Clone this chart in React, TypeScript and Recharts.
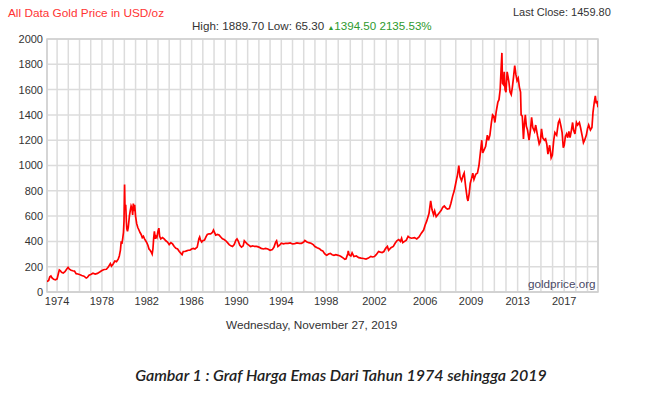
import React from 'react';
import { LineChart, Line, XAxis, YAxis, CartesianGrid, ReferenceArea } from 'recharts';

// gold price readings (decimal year, USD/oz)
const DATES = [
  1973.1, 1973.25, 1973.35, 1973.45, 1973.55, 1973.7, 1973.85, 1974.0, 1974.1, 1974.2,
  1974.3, 1974.4, 1974.55, 1974.7, 1974.85, 1974.98, 1975.1, 1975.25, 1975.4, 1975.55,
  1975.7, 1975.85, 1976.0, 1976.2, 1976.4, 1976.6, 1976.7, 1976.85, 1977.0, 1977.2,
  1977.4, 1977.6, 1977.8, 1978.0, 1978.2, 1978.4, 1978.55, 1978.75, 1978.85, 1979.0,
  1979.15, 1979.3, 1979.45, 1979.55, 1979.65, 1979.72, 1979.78, 1979.85, 1979.92, 1979.97,
  1980.02, 1980.05, 1980.08, 1980.12, 1980.18, 1980.22, 1980.28, 1980.35, 1980.45, 1980.52,
  1980.6, 1980.68, 1980.74, 1980.8, 1980.86, 1980.92, 1981.0, 1981.1, 1981.2, 1981.3,
  1981.4, 1981.5, 1981.6, 1981.7, 1981.8, 1981.9, 1982.0, 1982.1, 1982.2, 1982.3,
  1982.4, 1982.48, 1982.55, 1982.62, 1982.68, 1982.75, 1982.82, 1982.9, 1983.0, 1983.08,
  1983.15, 1983.25, 1983.4, 1983.55, 1983.7, 1983.85, 1984.0, 1984.15, 1984.3, 1984.45,
  1984.6, 1984.75, 1984.9, 1985.05, 1985.15, 1985.25, 1985.4, 1985.55, 1985.7, 1985.85,
  1986.0, 1986.15, 1986.3, 1986.5, 1986.65, 1986.72, 1986.8, 1986.9, 1987.0, 1987.15,
  1987.3, 1987.4, 1987.55, 1987.7, 1987.85, 1987.95, 1988.05, 1988.15, 1988.3, 1988.45,
  1988.6, 1988.75, 1988.9, 1989.05, 1989.2, 1989.35, 1989.5, 1989.65, 1989.8, 1989.95,
  1990.05, 1990.15, 1990.3, 1990.45, 1990.6, 1990.7, 1990.8, 1990.95, 1991.1, 1991.25,
  1991.45, 1991.6, 1991.8, 1992.0, 1992.2, 1992.4, 1992.6, 1992.8, 1993.0, 1993.2,
  1993.35, 1993.5, 1993.58, 1993.7, 1993.85, 1994.0, 1994.2, 1994.4, 1994.6, 1994.8,
  1995.0, 1995.2, 1995.4, 1995.6, 1995.8, 1996.0, 1996.1, 1996.25, 1996.45, 1996.65,
  1996.85, 1997.0, 1997.2, 1997.4, 1997.55, 1997.7, 1997.85, 1997.95, 1998.05, 1998.2,
  1998.35, 1998.5, 1998.65, 1998.8, 1999.0, 1999.2, 1999.4, 1999.55, 1999.65, 1999.8,
  1999.83, 1999.9, 2000.05, 2000.15, 2000.3, 2000.5, 2000.7, 2000.9, 2001.1, 2001.3,
  2001.5, 2001.7, 2001.85, 2002.0, 2002.15, 2002.35, 2002.5, 2002.65, 2002.8, 2002.95,
  2003.1, 2003.2, 2003.4, 2003.6, 2003.75, 2003.9, 2004.05, 2004.2, 2004.3, 2004.4,
  2004.55, 2004.7, 2004.85, 2004.97, 2005.1, 2005.3, 2005.45, 2005.6, 2005.75, 2005.9,
  2006.0, 2006.1, 2006.25, 2006.36, 2006.45, 2006.55, 2006.62, 2006.72, 2006.85, 2006.95,
  2007.05, 2007.15, 2007.25, 2007.35, 2007.45, 2007.58, 2007.68, 2007.8, 2007.9, 2008.0,
  2008.12, 2008.2, 2008.28, 2008.38, 2008.48, 2008.55, 2008.65, 2008.75, 2008.8, 2008.88,
  2008.95, 2009.05, 2009.15, 2009.25, 2009.4, 2009.55, 2009.68, 2009.8, 2009.92, 2010.0,
  2010.1, 2010.25, 2010.4, 2010.5, 2010.62, 2010.75, 2010.85, 2010.95, 2011.05, 2011.15,
  2011.3, 2011.4, 2011.5, 2011.58, 2011.65, 2011.7, 2011.78, 2011.85, 2011.92, 2012.0,
  2012.1, 2012.18, 2012.25, 2012.35, 2012.45, 2012.55, 2012.65, 2012.75, 2012.85, 2012.95,
  2013.05, 2013.15, 2013.25, 2013.3, 2013.4, 2013.5, 2013.58, 2013.66, 2013.75, 2013.85,
  2013.98, 2014.1, 2014.2, 2014.3, 2014.45, 2014.55, 2014.7, 2014.85, 2014.95, 2015.05,
  2015.15, 2015.3, 2015.4, 2015.5, 2015.6, 2015.75, 2015.88, 2015.98, 2016.1, 2016.2,
  2016.35, 2016.5, 2016.6, 2016.72, 2016.82, 2016.92, 2017.0, 2017.1, 2017.2, 2017.3,
  2017.4, 2017.5, 2017.62, 2017.72, 2017.8, 2017.92, 2018.05, 2018.15, 2018.3, 2018.4,
  2018.55, 2018.65, 2018.75, 2018.9, 2019.0, 2019.1, 2019.25, 2019.38, 2019.47, 2019.58,
  2019.67, 2019.75, 2019.82, 2019.9,
];

const PRICES = [
  82, 92, 120, 126, 112, 100, 96, 104, 140, 175,
  168, 155, 150, 160, 180, 195, 180, 172, 168, 165,
  145, 142, 138, 130, 125, 110, 115, 132, 138, 148,
  142, 147, 158, 170, 178, 180, 195, 225, 205, 222,
  245, 240, 260, 285, 330, 400, 380, 420, 470, 560,
  850, 700, 650, 690, 560, 500, 480, 510, 600, 640,
  680, 660, 610, 700, 640, 690, 600, 540, 510, 490,
  470, 455, 430, 440, 420, 405, 390, 370, 340, 330,
  315, 300, 340, 430, 480, 420, 440, 430, 480, 505,
  440, 420, 430, 420, 405, 395, 375, 390, 380, 360,
  345, 340, 320, 305, 295, 320, 320, 325, 330, 330,
  340, 345, 340, 355, 420, 435, 410, 395, 405, 410,
  440, 455, 460, 460, 470, 490, 470, 450, 455, 450,
  435, 420, 415, 405, 390, 375, 365, 360, 375, 410,
  420, 405, 370, 355, 365, 405, 395, 380, 370, 360,
  365, 360, 360, 355, 345, 340, 345, 340, 330, 335,
  355, 395, 405, 360, 370, 385, 380, 385, 385, 388,
  380, 382, 388, 385, 385, 395, 408, 398, 390, 385,
  375, 360, 350, 342, 330, 325, 305, 295, 290, 300,
  305, 295, 290, 295, 290, 283, 270, 258, 262, 305,
  325, 295, 285, 310, 280, 285, 272, 268, 265, 260,
  268, 282, 277, 280, 295, 320, 315, 312, 320, 345,
  360, 330, 350, 360, 385, 405, 415, 400, 425, 390,
  400, 410, 440, 430, 425, 430, 420, 435, 465, 490,
  530, 560, 620, 720, 650, 610, 640, 595, 615, 630,
  645, 670, 680, 665, 655, 660, 700, 760, 800, 860,
  930, 1000, 910, 880, 920, 940, 830, 740, 720, 780,
  860, 900, 940, 890, 930, 940, 1000, 1100, 1200, 1100,
  1120, 1150, 1240, 1200, 1240, 1340, 1400, 1390, 1340, 1420,
  1500, 1520, 1600, 1760, 1890, 1650, 1640, 1740, 1600, 1580,
  1740, 1700, 1660, 1580, 1560, 1620, 1700, 1790, 1720, 1670,
  1690, 1620, 1580, 1400, 1390, 1210, 1330, 1400, 1310, 1280,
  1200, 1280, 1380, 1300, 1270, 1320, 1240, 1170, 1190, 1290,
  1220, 1200, 1210, 1170, 1090, 1160, 1060, 1080, 1200, 1260,
  1240, 1340, 1360, 1310, 1260, 1140, 1160, 1230, 1250, 1220,
  1270, 1220, 1280, 1340, 1280, 1250, 1340, 1320, 1340, 1300,
  1230, 1180, 1200, 1240, 1290, 1320, 1280, 1300, 1420, 1500,
  1550, 1490, 1510, 1460,
];

const GRID_YEARS = Array.from({ length: 46 }, (_, i) => 1974 + i);
const LABEL_YEARS = [1974, 1978, 1982, 1986, 1990, 1994, 1998, 2002, 2006, 2009, 2013, 2017];
const PRICE_TICKS = [0, 200, 400, 600, 800, 1000, 1200, 1400, 1600, 1800, 2000];
const START = 1973.1;
const END = 2019.9;

// the source chart stretches some years wider than others
const SCALE_BREAKS = [1973, 1998, 2002, 2005, 2009, 2021];
const SCALE_WEIGHTS = [1, 1.077, 1.054, 1.364, 1.039];

function warp(year: number) {
  let u = 0;
  for (let i = 0; i < SCALE_WEIGHTS.length; i++) {
    const a = SCALE_BREAKS[i];
    const b = SCALE_BREAKS[i + 1];
    if (year <= a) break;
    u += (Math.min(year, b) - a) * SCALE_WEIGHTS[i];
  }
  return u;
}

const data = DATES.map((d, i) => ({ u: warp(d), price: PRICES[i] }));
const gridTicks = GRID_YEARS.map(warp);

const fmtYear = (v: number) => {
  const y = GRID_YEARS.find(g => Math.abs(warp(g) - v) < 1e-6);
  return y !== undefined && LABEL_YEARS.includes(y) ? String(y) : '';
};

const FONT = '"Liberation Sans", Arial, sans-serif';
const tickStyle = { fontSize: 11, fill: '#333', fontFamily: FONT };

export default function App() {
  return (
    <div style={{ position: 'absolute', left: 0, top: 0, width: 666, height: 394, background: '#fff', fontFamily: FONT }}>
      <div style={{ position: 'absolute', left: 8, top: 6, fontSize: 11.8, color: '#ff3333' }}>All Data Gold Price in USD/oz</div>
      <div style={{ position: 'absolute', left: 513, top: 6, fontSize: 11, color: '#333' }}>Last Close: 1459.80</div>
      <div style={{ position: 'absolute', left: 192, top: 19, fontSize: 11.6, color: '#333', whiteSpace: 'nowrap' }}>
        High: 1889.70 Low: 65.30{' '}
        <span style={{ color: '#2e9a2e' }}><span style={{ fontSize: 7 }}>▲</span>1394.50 2135.53%</span>
      </div>

      <div style={{ position: 'absolute', left: 0, top: 0 }}>
        <LineChart width={666} height={320} data={data} margin={{ top: 39, right: 68, left: 7, bottom: 8 }}>
          <CartesianGrid stroke="#dcdcdc" strokeWidth={1.5} />
          <ReferenceArea x1={warp(START)} x2={warp(END)} y1={0} y2={2000} fill="none" stroke="#d0d0d0" strokeWidth={1.5} ifOverflow="extendDomain" />
          <XAxis
            type="number"
            dataKey="u"
            domain={[warp(START), warp(END)]}
            ticks={gridTicks}
            interval={0}
            tickFormatter={fmtYear}
            tick={tickStyle}
            tickLine={false}
            axisLine={{ stroke: '#d0d0d0' }}
            tickSize={0}
            tickMargin={5}
            height={20}
            allowDataOverflow
          />
          <YAxis
            type="number"
            domain={[0, 2000]}
            ticks={PRICE_TICKS}
            interval={0}
            tick={tickStyle}
            tickLine={false}
            axisLine={false}
            tickSize={0}
            tickMargin={4}
            width={40}
          />
          <Line type="linear" dataKey="price" stroke="#ff0000" strokeWidth={1.7} strokeLinejoin="miter" dot={false} isAnimationActive={false} />
        </LineChart>
      </div>

      <div style={{ position: 'absolute', left: 528, top: 277, fontSize: 11.7, color: '#4a4a66' }}>goldprice.org</div>
      <div style={{ position: 'absolute', left: 226, top: 318, fontSize: 11.8, color: '#333' }}>Wednesday, November 27, 2019</div>
      <div style={{ position: 'absolute', left: 0, width: 682, top: 365, textAlign: 'center', fontSize: 16, fontStyle: 'italic', fontWeight: 600, color: '#222', fontFamily: 'Lato, "Open Sans", sans-serif' }}>
        Gambar 1 : Graf Harga Emas Dari Tahun 1974 sehingga 2019
      </div>
    </div>
  );
}
